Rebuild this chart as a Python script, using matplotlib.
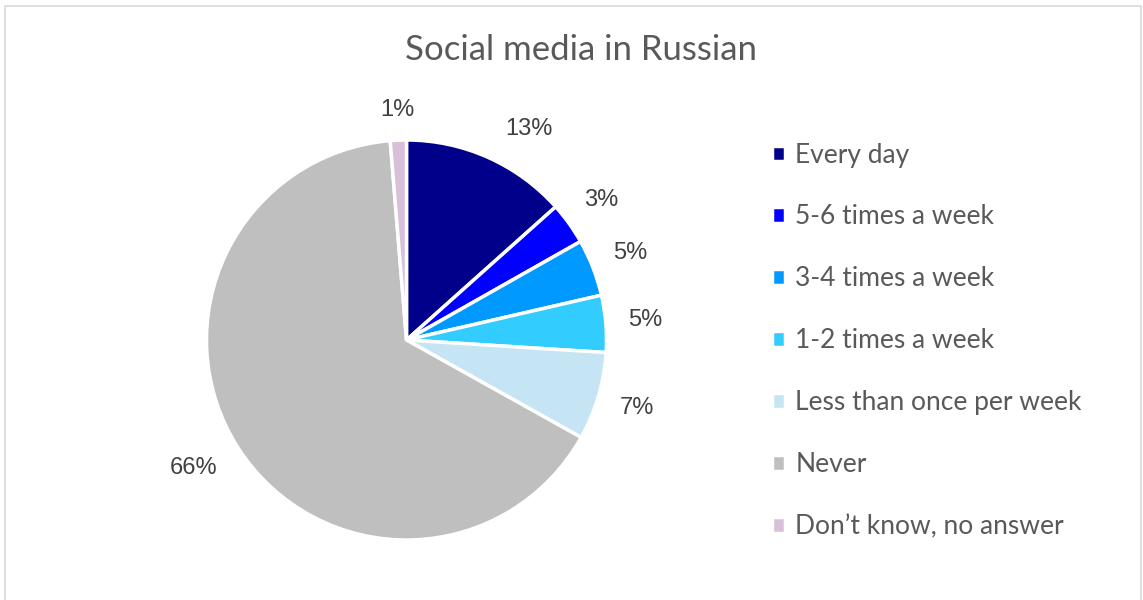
import numpy as np
import matplotlib.pyplot as plt
from matplotlib.patches import Rectangle

categories = ['Every day', '5-6 times a week', '3-4 times a week', '1-2 times a week',
              'Less than once per week', 'Never', 'Don\u2019t know, no answer']
shares = [13.4, 3.4, 4.6, 4.6, 7.1, 65.6, 1.3]
colors = ['#00008B', '#0000FF', '#0099FF', '#33CCFF', '#C5E5F5', '#BFBFBF', '#D8C0D8']

W, H = 1143, 600
fig = plt.figure(figsize=(W / 100, H / 100), dpi=100)

# light frame round the chart area
fig.patches.append(Rectangle((5 / W, -2 / H), 1136 / W, 596 / H, transform=fig.transFigure,
                             fill=False, edgecolor='#D9D9D9', linewidth=1.2))

# pie centred at (406, 340) px, radius 200 px
cx, cy, r = 406.5, 340, 200
ax = fig.add_axes([(cx - r) / W, (H - cy - r) / H, 2 * r / W, 2 * r / H])
wedges, texts, autotexts = ax.pie(
    shares, colors=colors, startangle=90, counterclock=False,
    autopct='%.0f%%', pctdistance=1.2,
    wedgeprops=dict(edgecolor='white', linewidth=2.5),
    textprops=dict(fontsize=17, color='#404040', family='Liberation Sans'))
ax.set_xlim(-1, 1)
ax.set_ylim(-1, 1)
ax.set_aspect('equal')
for t in autotexts:
    t.set_clip_on(False)
# the big first label sits a little further round, away from the small slices
a = np.deg2rad(60)
autotexts[0].set_position((1.22 * np.cos(a), 1.22 * np.sin(a)))
a = np.deg2rad(211)
autotexts[5].set_position((1.24 * np.cos(a), 1.24 * np.sin(a)))
autotexts[6].set_position(np.array(autotexts[6].get_position()) * 0.96)

fig.text(581 / W, 1 - 50 / H, 'Social media in Russian', ha='center', va='center',
         fontsize=25, color='#595959', family='Lato')

leg = fig.legend(wedges, categories, loc='upper left', bbox_to_anchor=(761 / W, 1 - 132 / H),
                 frameon=False, handlelength=0.52, handleheight=0.52, handletextpad=0.38,
                 labelspacing=1.40, borderaxespad=0,
                 prop=dict(family='Lato', size=19))
for t in leg.get_texts():
    t.set_color('#595959')

fig.savefig('out.png', dpi=100)
